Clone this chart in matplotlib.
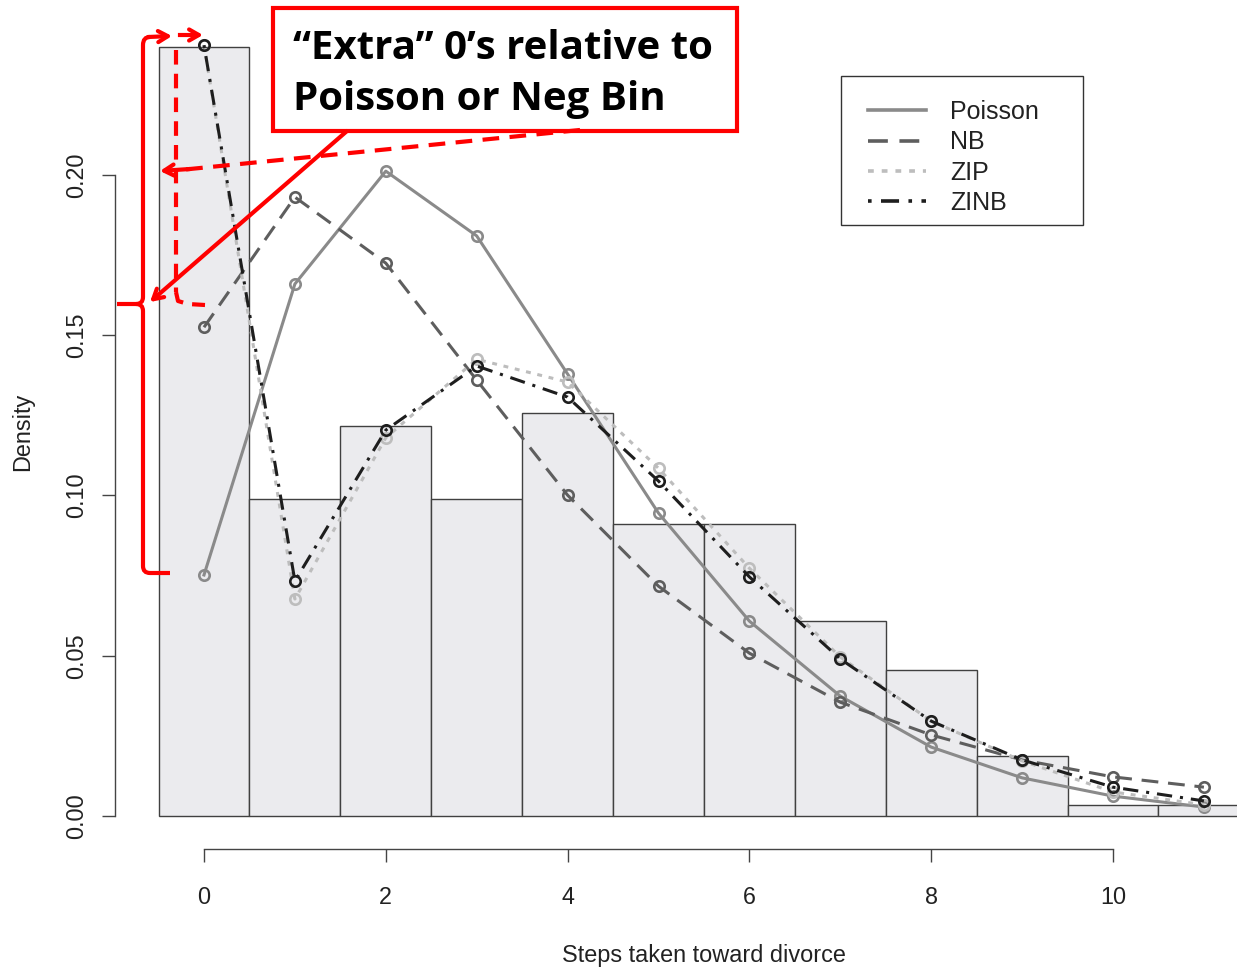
import matplotlib.pyplot as plt
from matplotlib.lines import Line2D
from matplotlib.patches import Rectangle, PathPatch
from matplotlib.path import Path

steps = list(range(12))
observed = [0.240, 0.0989, 0.1217, 0.0989, 0.1257, 0.0911, 0.0911, 0.0608, 0.0455, 0.0187, 0.0034, 0.0034]
poisson = [0.0752, 0.1660, 0.2012, 0.1810, 0.1379, 0.0945, 0.0608, 0.0374, 0.0215, 0.0119, 0.0062, 0.0028]
nb = [0.1525, 0.1931, 0.1725, 0.1360, 0.1001, 0.0717, 0.0508, 0.0355, 0.0253, 0.0175, 0.0122, 0.0090]
zip_ = [0.2405, 0.0677, 0.1180, 0.1425, 0.1354, 0.1085, 0.0773, 0.0496, 0.0296, 0.0172, 0.0075, 0.0035]
zinb = [0.2405, 0.0733, 0.1204, 0.1404, 0.1307, 0.1045, 0.0746, 0.0490, 0.0296, 0.0175, 0.0090, 0.0047]

x_ticks = [0, 2, 4, 6, 8, 10]
y_ticks = [0.00, 0.05, 0.10, 0.15, 0.20]

plt.rcParams['font.family'] = ['Liberation Sans', 'DejaVu Sans']

W, H = 1237, 967
fig = plt.figure(figsize=(W / 100, H / 100), dpi=100)
ax = fig.add_axes([150 / W, (H - 826) / H, (W - 150) / W, (826 - 20) / H])
ax.set_xlim(-0.594, 11.364)
ax.set_ylim(-0.00312, 0.24836)

ax.bar(steps, observed, width=1.0, color='#ebebee', edgecolor='#404040', linewidth=1.0, zorder=1)

styles = [
    ('Poisson', poisson, '#8a8a8a', '-'),
    ('NB', nb, '#5e5e5e', (0, (5.5, 3.2))),
    ('ZIP', zip_, '#bdbdbd', (0, (1.6, 2.2))),
    ('ZINB', zinb, '#1e1e1e', (0, (1, 2.6, 5, 2.6))),
]
handles = []
for name, vals, col, ls in styles:
    ax.plot(steps, vals, color=col, linestyle=ls, linewidth=2.2, marker='o', markersize=7.5,
            markerfacecolor='none', markeredgecolor=col, markeredgewidth=1.9, zorder=3)
    handles.append(Line2D([], [], color=col, linestyle=ls, linewidth=2.6, label=name))

for s in ['top', 'right']:
    ax.spines[s].set_visible(False)
ax.spines['left'].set_position(('outward', 25.2))
ax.spines['bottom'].set_position(('outward', 16.6))
ax.spines['left'].set_bounds(0, 0.2)
ax.spines['bottom'].set_bounds(0, 10)
for s in ['left', 'bottom']:
    ax.spines[s].set_color('#444444')
    ax.spines[s].set_linewidth(1.0)

ax.set_xticks(x_ticks)
ax.set_yticks(y_ticks)
ax.set_yticklabels(['%.2f' % v for v in y_ticks])
ax.tick_params(axis='both', length=9.5, width=1.0, color='#444444', labelsize=16.8, labelcolor='#222222')
ax.tick_params(axis='x', pad=17)
ax.tick_params(axis='y', pad=10)
for lab in ax.get_yticklabels():
    lab.set_rotation(90)
    lab.set_va('center')

ax.set_xlabel('Steps taken toward divorce', fontsize=16.9, color='#222222')
ax.set_ylabel('Density', fontsize=16.9, color='#222222')
ax.xaxis.set_label_coords(0.5097, -0.1464)
ax.yaxis.set_label_coords(-0.1067, 0.489)

leg = ax.legend(handles=handles, loc='upper left',
                bbox_to_anchor=(843 / W, 1 - 75 / H), bbox_transform=fig.transFigure,
                borderaxespad=0, frameon=False, fontsize=18,
                handlelength=2.3, handletextpad=1.0, borderpad=1.0, labelspacing=0.25)
for t in leg.get_texts():
    t.set_color('#222222')

# red annotation overlay, in pixel coordinates
ov = fig.add_axes([0, 0, 1, 1], zorder=5)
ov.set_xlim(0, W)
ov.set_ylim(H, 0)
ov.axis('off')
red = '#ff0000'

# legend frame
ov.add_patch(Rectangle((841, 76), 242, 149, facecolor='none', edgecolor='#333333', linewidth=1.0))

ov.add_patch(Rectangle((273, 8), 464, 123, facecolor='white', edgecolor=red, linewidth=3))
ov.text(293, 59, '\u201cExtra\u201d 0\u2019s relative to', fontsize=29, fontweight='bold',
        family=['Open Sans', 'DejaVu Sans'], va='baseline', ha='left', color='black')
ov.text(293, 110, 'Poisson or Neg Bin', fontsize=29, fontweight='bold',
        family=['Open Sans', 'DejaVu Sans'], va='baseline', ha='left', color='black')

# solid curly bracket
verts = [(150, 37), (143, 37), (143, 45), (143, 297), (143, 304), (136, 304), (117, 304),
         (136, 304), (143, 304), (143, 311), (143, 566), (143, 573), (150, 573), (170, 573)]
codes = [Path.MOVETO, Path.CURVE3, Path.CURVE3, Path.LINETO, Path.CURVE3, Path.CURVE3, Path.LINETO,
         Path.MOVETO, Path.CURVE3, Path.CURVE3, Path.LINETO, Path.CURVE3, Path.CURVE3, Path.LINETO]
ov.add_patch(PathPatch(Path(verts, codes), facecolor='none', edgecolor=red, linewidth=3))
arw = dict(arrowstyle='->,head_length=0.7,head_width=0.4', color=red, lw=3, shrinkA=0, shrinkB=0)
ov.annotate('', xy=(172, 36), xytext=(148, 37), arrowprops=arw)

# dashed bracket
ov.plot([176, 176], [50, 292], color=red, lw=3, linestyle=(0, (3.5, 2.2)))
ov.plot([176, 178, 188, 205], [292, 301, 304, 305], color=red, lw=3, linestyle=(0, (3.5, 2.2)))
ov.plot([180, 192], [35, 35], color=red, lw=3)
ov.annotate('', xy=(203, 35), xytext=(190, 35), arrowprops=arw)

# diagonal solid arrow from the box
ov.annotate('', xy=(150, 302), xytext=(347, 131), arrowprops=arw)

# dashed arrow from the box
ov.plot([580, 185], [130, 169.5], color=red, lw=3, linestyle=(0, (4, 2.5)))
ov.annotate('', xy=(160, 171), xytext=(190, 169), arrowprops=arw)

fig.savefig('out.png', dpi=100)
